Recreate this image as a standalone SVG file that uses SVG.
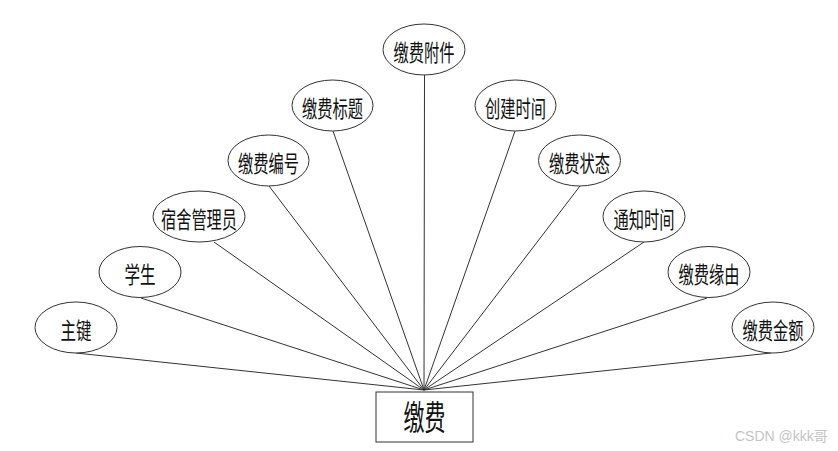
<svg xmlns="http://www.w3.org/2000/svg" width="838" height="451" viewBox="0 0 838 451">
<style>
.bg{fill:#ffffff}
.attr ellipse{fill:#ffffff;stroke:#333333;stroke-width:1}
.lbl{font-family:"Noto Sans CJK SC","Noto Sans",sans-serif;font-size:23px;fill:#111111;text-anchor:middle}
.big{font-family:"Noto Sans CJK SC","Noto Sans",sans-serif;font-size:34px;fill:#111111;text-anchor:middle}
#edges line{stroke:#333333;stroke-width:1}
.wm{font-family:"Liberation Sans","Noto Sans CJK SC",sans-serif;font-size:14px;fill:#c4c4c4}
</style>
<rect class="bg" x="0" y="0" width="838" height="451"/>
<g id="edges">
<line x1="76" y1="353" x2="424" y2="390"/>
<line x1="141" y1="298" x2="424" y2="390"/>
<line x1="214" y1="242" x2="424" y2="390"/>
<line x1="269" y1="186" x2="424" y2="390"/>
<line x1="333" y1="131" x2="424" y2="390"/>
<line x1="424.5" y1="75" x2="424" y2="390"/>
<line x1="515" y1="131" x2="424" y2="390"/>
<line x1="580" y1="186" x2="424" y2="390"/>
<line x1="644" y1="242" x2="424" y2="390"/>
<line x1="707" y1="298" x2="424" y2="390"/>
<line x1="771" y1="353" x2="424" y2="390"/>
</g>
<g id="n_zhujian" class="attr"><ellipse cx="76" cy="327.5" rx="41" ry="25.5"/><text class="lbl" x="76" y="338.5" textLength="31" lengthAdjust="spacingAndGlyphs">主键</text></g>
<g id="n_xuesheng" class="attr"><ellipse cx="140" cy="272" rx="41" ry="25.5"/><text class="lbl" x="140" y="283" textLength="31" lengthAdjust="spacingAndGlyphs">学生</text></g>
<g id="n_sushe" class="attr"><ellipse cx="199" cy="216.5" rx="46" ry="25.5"/><text class="lbl" x="199" y="227.5" textLength="76" lengthAdjust="spacingAndGlyphs">宿舍管理员</text></g>
<g id="n_bianhao" class="attr"><ellipse cx="268.5" cy="160.5" rx="40.5" ry="25.5"/><text class="lbl" x="268.5" y="171.5" textLength="61" lengthAdjust="spacingAndGlyphs">缴费编号</text></g>
<g id="n_biaoti" class="attr"><ellipse cx="332.5" cy="105.5" rx="40.5" ry="25.5"/><text class="lbl" x="332.5" y="116.5" textLength="61" lengthAdjust="spacingAndGlyphs">缴费标题</text></g>
<g id="n_fujian" class="attr"><ellipse cx="424" cy="49.5" rx="41" ry="25.5"/><text class="lbl" x="424" y="60.5" textLength="61" lengthAdjust="spacingAndGlyphs">缴费附件</text></g>
<g id="n_chuangjian" class="attr"><ellipse cx="515.5" cy="105.5" rx="40.5" ry="25.5"/><text class="lbl" x="515.5" y="116.5" textLength="61" lengthAdjust="spacingAndGlyphs">创建时间</text></g>
<g id="n_zhuangtai" class="attr"><ellipse cx="579.5" cy="160.5" rx="41" ry="25.5"/><text class="lbl" x="579.5" y="171.5" textLength="61" lengthAdjust="spacingAndGlyphs">缴费状态</text></g>
<g id="n_tongzhi" class="attr"><ellipse cx="644" cy="216.5" rx="41" ry="25.5"/><text class="lbl" x="644" y="227.5" textLength="61" lengthAdjust="spacingAndGlyphs">通知时间</text></g>
<g id="n_yuanyou" class="attr"><ellipse cx="709" cy="272" rx="41" ry="25.5"/><text class="lbl" x="709" y="283" textLength="61" lengthAdjust="spacingAndGlyphs">缴费缘由</text></g>
<g id="n_jine" class="attr"><ellipse cx="773" cy="327.5" rx="41" ry="25.5"/><text class="lbl" x="773" y="338.5" textLength="61" lengthAdjust="spacingAndGlyphs">缴费金额</text></g>
<g id="n_jiaofei"><rect x="376" y="392" width="97" height="50" fill="#ffffff" stroke="#333333" stroke-width="1"/><text class="big" x="424.5" y="429.5" textLength="42" lengthAdjust="spacingAndGlyphs">缴费</text></g>
<text class="wm" x="735" y="441">CSDN @kkk哥</text>
</svg>
